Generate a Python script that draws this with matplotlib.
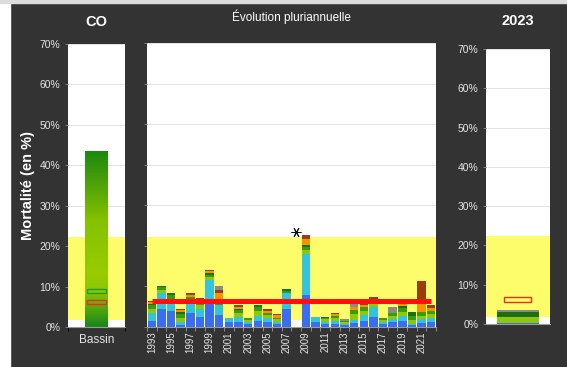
import numpy as np
import matplotlib
matplotlib.use('Agg')
import matplotlib.pyplot as plt
from matplotlib.colors import LinearSegmentedColormap
from matplotlib.patches import Rectangle

plt.rcParams['font.family'] = ['Liberation Sans', 'DejaVu Sans']

# --- data (mortality %) ---
years = list(range(1993, 2023))
classes = ['bleu', 'cyan', 'vert clair', 'vert', 'vert foncé', 'orange', 'brun', 'gris']
class_colors = ['#3a6df0', '#33c3dd', '#8fc80a', '#3c9a10', '#1d6e0c', '#f59300', '#9a3d08', '#8a8a8a']

# one row per year, one column per class
stacks = [
    [1.5, 2.0, 1.0, 0.8, 0.3, 0.5, 0.3, 0.0],  # 1993
    [4.5, 4.0, 0.6, 0.7, 0.4, 0.0, 0.0, 0.0],
    [4.0, 3.0, 0.0, 0.8, 0.5, 0.0, 0.0, 0.0],
    [0.5, 0.8, 1.0, 1.0, 0.5, 0.5, 0.2, 0.0],
    [3.5, 3.0, 0.0, 0.8, 0.0, 0.6, 0.4, 0.0],
    [2.5, 2.0, 1.0, 0.7, 0.4, 0.3, 0.3, 0.0],
    [6.0, 5.5, 0.8, 0.6, 0.4, 0.5, 0.3, 0.0],
    [3.0, 2.5, 0.0, 1.0, 0.5, 1.5, 0.7, 0.8],  # 2000
    [1.3, 1.0, 0.0, 0.0, 0.0, 0.0, 0.0, 0.0],
    [1.2, 1.2, 1.0, 0.8, 0.3, 0.5, 0.3, 0.0],
    [0.8, 0.5, 0.5, 0.5, 0.0, 0.0, 0.0, 0.0],
    [1.5, 1.3, 1.2, 1.0, 0.3, 0.0, 0.0, 0.0],
    [1.2, 1.0, 0.8, 0.5, 0.0, 0.5, 0.4, 0.0],
    [0.8, 0.5, 0.6, 0.4, 0.0, 0.6, 0.3, 0.0],
    [4.5, 3.8, 0.0, 0.5, 0.5, 0.0, 0.0, 0.0],
    [0.0, 0.0, 0.0, 0.0, 0.0, 0.0, 0.0, 0.0],  # 2008 : pas de données
    [8.0, 10.0, 1.0, 0.8, 0.5, 1.5, 0.8, 0.0],
    [1.3, 1.2, 0.0, 0.0, 0.0, 0.0, 0.0, 0.0],  # 2010
    [0.8, 0.5, 0.6, 0.4, 0.2, 0.0, 0.0, 0.0],
    [0.8, 0.6, 0.7, 0.5, 0.0, 0.5, 0.3, 0.0],
    [0.5, 0.3, 0.4, 0.2, 0.0, 0.0, 0.0, 0.6],
    [1.0, 0.8, 1.5, 1.0, 0.0, 0.6, 0.0, 1.1],
    [1.5, 1.5, 1.0, 1.0, 0.0, 0.5, 0.3, 0.0],
    [2.5, 2.5, 1.0, 0.8, 0.0, 0.0, 0.7, 0.0],
    [0.8, 0.5, 0.5, 0.5, 0.0, 0.0, 0.0, 0.0],
    [1.2, 0.8, 0.8, 0.6, 0.0, 0.0, 0.0, 1.5],
    [1.5, 1.2, 1.0, 1.0, 0.4, 0.6, 0.4, 0.0],
    [0.4, 0.3, 1.0, 1.0, 1.0, 0.0, 0.0, 0.0],  # 2020
    [1.0, 1.0, 0.8, 0.8, 0.0, 2.8, 5.0, 0.0],
    [1.2, 1.0, 1.0, 0.8, 0.0, 0.8, 0.6, 0.0],
]
missing_years = [2008]
missing_marker_y = 23.5

stack_2023 = [0.3, 0.0, 1.5, 0.0, 1.2, 0.0, 0.0, 0.5]

bassin_value = 43.5
bassin_ref_green = 8.9

normal_band = (1.7, 22.3)  # zone jaune

years_arr = np.array(years)
stacks = np.array(stacks)
totals = stacks.sum(axis=1)
mean_mortality = totals[totals > 0].mean()

DARK = '#333333'
TXT = '#e6e6e6'
YELLOW = '#fdfd6c'
GRID = '#e4e4e4'

W, H = 567, 367
fig = plt.figure(figsize=(W / 100, H / 100), dpi=100, facecolor=DARK)
fig.patches.append(Rectangle((0, 0), 10 / W, 1, transform=fig.transFigure, color='white', zorder=-1))
fig.patches.append(Rectangle((0, 1 - 3 / H), 1, 3 / H, transform=fig.transFigure, color='#dcdcdc', zorder=-1))


def px_axes(x0, x1, ytop, ybot):
    return fig.add_axes([x0 / W, (H - ybot) / H, (x1 - x0) / W, (ybot - ytop) / H])


def style_axes(ax, show_ylabels):
    ax.set_facecolor('white')
    ax.set_ylim(0, 70)
    ax.set_yticks(range(0, 71, 10))
    ax.set_yticklabels([f'{v}%' for v in range(0, 71, 10)] if show_ylabels else [])
    ax.yaxis.grid(True, color=GRID, linewidth=0.7, zorder=0)
    ax.set_axisbelow(True)
    for s in ['top', 'right', 'left']:
        ax.spines[s].set_visible(False)
    ax.spines['bottom'].set_color('#9a9a9a')
    ax.tick_params(axis='y', colors='#8a8a8a', labelcolor=TXT, labelsize=7.5, length=2, width=0.6)
    ax.tick_params(axis='x', colors='#9a9a9a', labelcolor=TXT, labelsize=7.5)
    ax.axhspan(*normal_band, color=YELLOW, zorder=1, linewidth=0)


# --- left panel: Bassin ---
axl = px_axes(68, 125, 44, 327)
style_axes(axl, True)
axl.set_xlim(-0.5, 0.5)
bar = axl.bar([0], [bassin_value], width=0.39, color='none', zorder=2)[0]
cmap = LinearSegmentedColormap.from_list('bassin', [(0, '#17851a'), (0.2, '#8cc600'), (0.3, '#98cc00'),
                                                    (0.6, '#86c200'), (1, '#1c880e')])
grad = np.linspace(0, 1, 256).reshape(-1, 1)
im = axl.imshow(grad, cmap=cmap, origin='lower', aspect='auto', zorder=2,
                extent=[bar.get_x(), bar.get_x() + bar.get_width(), 0, bassin_value])
im.set_clip_path(bar)
axl.set_xlim(-0.5, 0.5)
axl.set_ylim(0, 70)
axl.add_patch(Rectangle((-0.165, bassin_ref_green - 0.5), 0.33, 1.0, fill=False, edgecolor='#1f9a1f', linewidth=1, zorder=3))
axl.add_patch(Rectangle((-0.165, mean_mortality - 0.3 - 0.5), 0.33, 1.0, fill=False, edgecolor='#e83020', linewidth=1, zorder=3))
axl.set_xticks([0])
axl.set_xticklabels(['Bassin'], fontsize=8.5)
axl.tick_params(axis='x', length=0, pad=5)
axl.set_xticks([-0.5, 0.5], minor=True)
axl.tick_params(axis='x', which='minor', length=3, width=0.6)
axl.set_title('CO', color='white', fontsize=10.5, fontweight='bold', pad=13)
axl.set_ylabel('Mortalité (en %)', color='white', fontsize=10.5, fontweight='bold', labelpad=3)

# --- middle panel: multi-year evolution ---
axm = px_axes(147, 436, 43, 327)
style_axes(axm, False)
bottom = np.zeros(len(years))
for k, c in enumerate(class_colors):
    axm.bar(years_arr, stacks[:, k], bottom=bottom, width=0.88, color=c, linewidth=0, zorder=2)
    bottom += stacks[:, k]
axm.plot(years_arr, np.full(len(years), mean_mortality), color='#ff1010', linewidth=3.6, zorder=4, solid_capstyle='butt')
axm.plot(missing_years, [missing_marker_y] * len(missing_years), linestyle='none',
         marker=(6, 2, 90), markersize=7, markeredgecolor='#111111', markeredgewidth=0.7, zorder=4)
axm.set_xlim(years[0] - 0.5, years[-1] + 0.5)
axm.set_xticks(years[::2])
axm.set_xticklabels([str(y) for y in years[::2]], rotation=90, fontsize=7)
axm.tick_params(axis='x', length=0, pad=3)
axm.set_xticks(np.arange(years[0] - 0.5, years[-1] + 1.0, 1.0), minor=True)
axm.tick_params(axis='x', which='minor', length=3, width=0.6, colors='#9a9a9a')
axm.set_title('Évolution pluriannuelle', color='white', fontsize=8.5, pad=16)

# --- right panel: 2023 ---
axr = px_axes(486, 550, 49, 324)
style_axes(axr, True)
axr.set_xlim(-0.5, 0.5)
b = 0.0
for v, c in zip(stack_2023, class_colors):
    axr.bar([0], [v], bottom=b, width=0.66, color=c, linewidth=0, zorder=2)
    b += v
axr.add_patch(Rectangle((-0.22, mean_mortality - 0.3 - 0.6), 0.42, 1.2, fill=False, edgecolor='#e83020', linewidth=1, zorder=3))
axr.set_xticks([])
axr.set_title('2023', color='white', fontsize=10.5, fontweight='bold', pad=17)

fig.savefig('out.png', dpi=100, facecolor=fig.get_facecolor())
